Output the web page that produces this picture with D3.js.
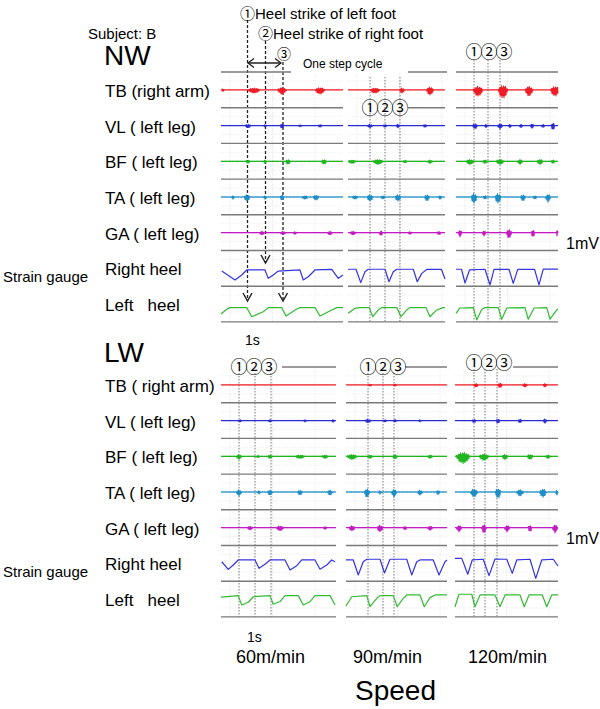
<!DOCTYPE html>
<html><head><meta charset="utf-8">
<script src="https://cdn.jsdelivr.net/npm/d3@7"></script>
<style>
body{margin:0;background:#fff}
svg{display:block}
text{font-family:"Liberation Sans",Arial,Helvetica,sans-serif;fill:#000;white-space:pre}
.cj{font-family:"Noto Sans CJK JP",sans-serif}
</style></head><body><svg id="c" width="600" height="709"></svg>
<script>
// ---------------- DATA ----------------
const speeds = ["60m/min", "90m/min", "120m/min"];
const conditions = ["NW", "LW"];
const rowLabelsNW = ["TB (right arm)", "VL ( left leg)", "BF ( left leg)", "TA ( left leg)", "GA ( left leg)", "Right heel", "Left   heel"];
const rowLabelsLW = ["TB ( right arm)", "VL ( left leg)", "BF ( left leg)", "TA ( left leg)", "GA ( left leg)", "Right heel", "Left   heel"];
const eventMarks = ["①", "②", "③"];
// recording length shown in each panel (s)
const durNW = [4.88, 3.88, 4.08];
const durLW = [4.60, 4.04, 4.12];
// times (s) of events ①②③ in each panel
const eventsNW = [[1.06, 1.78, 2.48], [0.88, 1.48, 2.08], [0.72, 1.28, 1.76]];
const eventsLW = [[0.72, 1.36, 2.00], [0.88, 1.48, 1.92], [0.76, 1.20, 1.68]];

// EMG bursts per panel: [time s, amplitude mV, duration s]
const NW_TB = [
 [[0.08,0.08,0.12],[1.32,0.17,0.48],[2.44,0.22,0.36],[3.96,0.22,0.40]],
 [[1.08,0.17,0.40],[2.16,0.17,0.20],[3.28,0.28,0.28]],
 [[0.88,0.34,0.40],[1.88,0.45,0.40],[2.92,0.34,0.32],[3.96,0.34,0.36]]];
const NW_VL = [
 [[1.08,0.11,0.24],[1.76,0.06,0.12],[2.44,0.14,0.16],[3.16,0.06,0.12],[3.96,0.08,0.16]],
 [[0.88,0.11,0.20],[1.48,0.08,0.16],[2.00,0.11,0.16],[3.08,0.08,0.16]],
 [[0.76,0.17,0.20],[1.20,0.11,0.12],[1.76,0.17,0.20],[2.16,0.11,0.12],[2.60,0.11,0.12],[3.04,0.14,0.16],[3.48,0.11,0.12],[3.88,0.22,0.16]]];
const NW_BF = [
 [[1.08,0.11,0.16],[1.76,0.11,0.12],[2.68,0.17,0.20],[4.12,0.17,0.20]],
 [[0.16,0.11,0.32],[1.20,0.17,0.40],[2.28,0.08,0.16],[3.28,0.11,0.20]],
 [[0.56,0.17,0.32],[1.16,0.11,0.20],[1.76,0.17,0.32],[2.56,0.17,0.20],[3.36,0.17,0.24],[3.88,0.11,0.16]]];
const NW_TA = [
 [[0.48,0.11,0.12],[1.04,0.22,0.24],[1.76,0.11,0.12],[2.44,0.17,0.16],[3.36,0.11,0.24],[3.80,0.17,0.24]],
 [[0.28,0.11,0.24],[0.88,0.22,0.24],[1.40,0.11,0.16],[2.00,0.22,0.24],[3.16,0.22,0.20],[3.68,0.11,0.16]],
 [[0.72,0.34,0.24],[1.16,0.11,0.16],[1.68,0.34,0.24],[2.68,0.22,0.20],[3.16,0.11,0.16],[3.68,0.28,0.20]]];
const NW_GA = [
 [[1.64,0.11,0.20],[2.48,0.11,0.20],[2.96,0.08,0.16],[4.36,0.11,0.20]],
 [[0.20,0.11,0.24],[1.32,0.17,0.12],[2.48,0.08,0.16],[3.64,0.11,0.16]],
 [[0.16,0.22,0.16],[1.12,0.17,0.16],[2.12,0.28,0.24],[3.08,0.22,0.16],[4.04,0.22,0.08]]];
const LW_TB = [
 [],
 [[0.96,0.05,0.16],[1.96,0.05,0.16]],
 [[0.84,0.11,0.20],[1.80,0.14,0.20],[2.80,0.11,0.20],[3.60,0.11,0.16]]];
const LW_VL = [
 [[0.76,0.08,0.12],[1.96,0.08,0.12],[3.36,0.06,0.12],[4.48,0.08,0.12]],
 [[0.88,0.11,0.24],[1.56,0.08,0.12],[1.96,0.08,0.12],[2.96,0.06,0.12]],
 [[0.76,0.11,0.16],[1.72,0.14,0.16],[2.60,0.11,0.16],[3.60,0.14,0.16]]];
const LW_BF = [
 [[0.72,0.17,0.20],[1.48,0.08,0.12],[1.96,0.11,0.20],[3.16,0.11,0.40],[4.16,0.11,0.24]],
 [[0.24,0.17,0.40],[0.96,0.11,0.20],[1.96,0.14,0.20],[3.36,0.11,0.20]],
 [[0.32,0.39,0.56],[1.16,0.22,0.40],[2.00,0.17,0.24],[3.00,0.17,0.24],[3.72,0.11,0.20]]];
const LW_TA = [
 [[0.72,0.22,0.20],[1.52,0.11,0.12],[1.96,0.17,0.20],[3.16,0.17,0.20],[4.36,0.17,0.20]],
 [[0.84,0.28,0.24],[1.36,0.11,0.12],[1.92,0.28,0.20],[2.96,0.17,0.20],[3.68,0.14,0.16]],
 [[0.76,0.28,0.28],[1.72,0.34,0.24],[2.60,0.22,0.28],[3.52,0.28,0.28],[4.08,0.17,0.12]]];
const LW_GA = [
 [[1.16,0.11,0.24],[2.36,0.17,0.28],[4.16,0.08,0.16]],
 [[0.24,0.17,0.24],[1.36,0.22,0.24],[2.36,0.11,0.16],[3.36,0.14,0.20]],
 [[0.16,0.22,0.20],[1.16,0.28,0.20],[2.08,0.22,0.20],[3.00,0.22,0.16],[4.00,0.28,0.20]]];

// strain gauge signals per panel: [time s, normalised value]
const NW_RH = [
 [[0.03,-0.15],[0.56,-0.65],[0.83,-0.37],[1.03,-0.09],[1.76,-0.09],[1.89,-0.56],[2.09,-0.37],[2.29,-0.15],[3.16,-0.09],[3.29,-0.65],[3.49,-0.47],[3.76,-0.09],[4.43,-0.06],[4.69,-0.56],[4.88,-0.37]],
 [[0,-0.05],[0.32,-0.05],[0.51,-0.80],[0.68,-0.19],[0.81,-0.05],[1.48,-0.05],[1.64,-0.75],[1.81,-0.19],[1.95,-0.05],[2.61,-0.05],[2.77,-0.75],[2.95,-0.28],[3.15,-0.06],[3.74,-0.06],[3.88,-0.60]],
 [[0,-0.05],[0.22,-0.05],[0.36,-0.82],[0.54,-0.09],[1.16,-0.05],[1.36,-0.93],[1.52,-0.06],[2.12,-0.05],[2.29,-0.84],[2.47,-0.06],[3.14,-0.05],[3.32,-0.93],[3.49,-0.04],[4.08,-0.04]]];
const NW_LH = [
 [[0,-0.56],[0.23,-0.29],[0.36,-0.20],[1.03,-0.20],[1.23,-0.71],[1.69,-0.43],[1.89,-0.20],[2.43,-0.20],[2.60,-0.67],[3.03,-0.28],[3.16,-0.20],[3.76,-0.20],[3.96,-0.67],[4.43,-0.33],[4.63,-0.20],[4.88,-0.20]],
 [[0.01,-0.52],[0.28,-0.24],[0.48,-0.20],[0.85,-0.20],[0.99,-0.71],[1.21,-0.33],[1.35,-0.20],[1.95,-0.20],[2.12,-0.71],[2.35,-0.33],[2.48,-0.20],[3.12,-0.20],[3.28,-0.71],[3.55,-0.33],[3.81,-0.20],[3.88,-0.20]],
 [[0,-0.52],[0.16,-0.22],[0.69,-0.20],[0.83,-0.89],[1.03,-0.29],[1.16,-0.20],[1.69,-0.20],[1.83,-0.85],[2.03,-0.22],[2.76,-0.20],[2.89,-0.85],[3.12,-0.22],[3.63,-0.20],[3.76,-0.85],[4.03,-0.33],[4.08,-0.28]]];
const LW_RH = [
 [[0.03,0.09],[0.29,-0.34],[0.49,-0.09],[0.69,0.19],[1.36,0.19],[1.52,-0.28],[1.76,-0.05],[1.96,0.19],[2.56,0.19],[2.76,-0.37],[3.03,-0.13],[3.23,0.19],[3.76,0.19],[3.96,-0.33],[4.23,-0.09],[4.43,0.19],[4.56,0.09]],
 [[0,0.19],[0.29,0.19],[0.49,-0.65],[0.69,0.09],[0.83,0.23],[1.36,0.23],[1.54,-0.54],[1.76,0.23],[2.43,0.23],[2.63,-0.65],[2.83,0.09],[2.96,0.19],[3.49,0.19],[3.72,-0.65],[3.96,0.09],[4.04,0.19]],
 [[0,0.28],[0.27,0.28],[0.51,-0.61],[0.69,0.19],[1.13,0.23],[1.36,-0.69],[1.60,0.24],[2.07,0.23],[2.29,-0.56],[2.47,0.19],[3.00,0.23],[3.23,-0.84],[3.47,0.19],[3.93,0.23],[4.12,-0.15]]];
const LW_LH = [
 [[0,0.11],[0.69,0.19],[0.83,-0.33],[1.09,-0.18],[1.29,0.13],[1.96,0.19],[2.09,-0.29],[2.36,-0.14],[2.56,0.19],[3.09,0.19],[3.29,-0.33],[3.56,-0.15],[3.76,0.19],[4.36,0.19],[4.56,-0.33]],
 [[0,-0.39],[0.23,0.13],[0.83,0.19],[0.96,-0.43],[1.23,0.04],[1.36,0.19],[1.89,0.19],[2.05,-0.43],[2.29,0.04],[2.43,0.23],[2.96,0.23],[3.13,-0.43],[3.36,0.08],[3.56,0.23],[4.04,0.23]],
 [[0,-0.43],[0.16,0.27],[0.67,0.27],[0.80,-0.43],[1.00,0.23],[1.60,0.23],[1.80,-0.43],[2.00,0.23],[2.60,0.23],[2.77,-0.43],[2.96,0.23],[3.49,0.23],[3.67,-0.43],[3.87,0.23],[4.12,0.23]]];

// ---------------- LAYOUT / STYLE ----------------
const svg = d3.select("#c");
const PX_PER_S = 25, ROW_H = 35.7, CIRC = 17;
const colors = ["#ee1c24", "#2b2bd2", "#22b522", "#1e8ec6", "#c21dc2", "#3535e0", "#33bb33"];
const sections = [
  {name: conditions[0], top: 72, left: [221, 348, 456], dur: durNW, emg: [NW_TB, NW_VL, NW_BF, NW_TA, NW_GA],
   rh: NW_RH, lh: NW_LH, ev: eventsNW, labels: rowLabelsNW,
   topSeg: [[221, 291], [408, 447], [456, 558]], evTop: [16, 77, 60]},
  {name: conditions[1], top: 367, left: [221, 346, 455], dur: durLW, emg: [LW_TB, LW_VL, LW_BF, LW_TA, LW_GA],
   rh: LW_RH, lh: LW_LH, ev: eventsLW, labels: rowLabelsLW,
   topSeg: [[282, 336], [405, 447], [513, 558]], evTop: [373, 373, 369]}
];
const texture = [1, .35, .8, .55, .95, .25, .7, .45];
function emgSeries(bursts, dur) {
  const pts = [], dt = 0.02;
  for (let i = 0; i * dt <= dur + 1e-9; i++) {
    const t = i * dt; let env = 0.014;
    for (const [tc, a, d] of bursts) { const u = (t - tc) / (d / 2); if (Math.abs(u) < 1) env += a * (1 - u * u); }
    pts.push([t, env * texture[i % 8] * (i % 2 ? 1 : -1)]);
  }
  return pts;
}
const gGrid = svg.append("g"), gEv = svg.append("g"), gSep = svg.append("g"), gSig = svg.append("g"), gTxt = svg.append("g");

sections.forEach((s, si) => {
  s.dur.forEach((dur, p) => {
    const x = d3.scaleLinear().domain([0, dur]).range([s.left[p], s.left[p] + dur * PX_PER_S]);
    const [x0, x1] = x.range();
    for (let r = 0; r < 7; r++) {
      const y = d3.scaleLinear().domain([-1, 1]).range([s.top + (r + 1) * ROW_H, s.top + r * ROW_H]);
      [0.5, -0.5].forEach(v => gGrid.append("line").attr("x1", x0).attr("x2", x1).attr("y1", y(v)).attr("y2", y(v))
        .attr("stroke", "#e8e8e8").attr("stroke-width", 0.7).attr("stroke-dasharray", "1,1"));
    }
    d3.range(0.36, dur, 1.7).forEach(t => gGrid.append("line").attr("x1", x(t)).attr("x2", x(t))
      .attr("y1", s.top + 2).attr("y2", s.top + 7 * ROW_H).attr("stroke", "#e3e3e3").attr("stroke-width", 0.8).attr("stroke-dasharray", "1,1"));
    for (let k = 0; k < 8; k++) {
      let a = x0, b = x1;
      if (k === 0) [a, b] = s.topSeg[p];
      if (si === 0 && p === 1 && k === 1) a = 408;
      gSep.append("line").attr("x1", a).attr("x2", b).attr("y1", s.top + k * ROW_H).attr("y2", s.top + k * ROW_H)
        .attr("stroke", "#7a7a7a").attr("stroke-width", 1.4);
    }
    const yBot = s.top + 7 * ROW_H;
    if (si === 0 && p === 0) {
      const tips = [301, 263, 301], tops = [20, 41, 62];
      s.ev[p].forEach((t, i) => {
        const xx = x(t);
        gEv.append("line").attr("x1", xx).attr("x2", xx).attr("y1", tops[i]).attr("y2", tips[i])
          .attr("stroke", "#222").attr("stroke-width", 1.3).attr("stroke-dasharray", "3,2");
        gTxt.append("path").attr("d", `M${xx - 4.5},${tips[i] - 8}L${xx},${tips[i]}L${xx + 4.5},${tips[i] - 8}`)
          .attr("fill", "none").attr("stroke", "#222").attr("stroke-width", 1.4);
      });
    } else {
      s.ev[p].forEach(t => gEv.append("line").attr("x1", x(t)).attr("x2", x(t)).attr("y1", s.evTop[p]).attr("y2", yBot)
        .attr("stroke", "#555").attr("stroke-width", 0.8).attr("stroke-dasharray", "1.5,1.5"));
      const ly = (si === 0 ? (p === 1 ? 114 : 58) : (p === 2 ? 369 : 373));
      gTxt.append("text").attr("class", "cj").attr("x", x(s.ev[p][0]) - CIRC / 2).attr("y", ly)
        .attr("font-size", CIRC).attr("letter-spacing", -2).text(eventMarks.join(""));
    }
    for (let r = 0; r < 7; r++) {
      const y = d3.scaleLinear().domain([-1, 1]).range([s.top + (r + 1) * ROW_H, s.top + r * ROW_H]);
      const line = d3.line().x(d => x(d[0])).y(d => y(d[1]));
      const pts = r < 5 ? emgSeries(s.emg[r][p], dur) : (r === 5 ? s.rh[p] : s.lh[p]);
      gSig.append("path").attr("d", line(pts)).attr("fill", "none").attr("stroke", colors[r])
        .attr("stroke-width", r < 5 ? 1.1 : 1.2).attr("stroke-linejoin", "round");
    }
  });
  s.labels.forEach((lab, r) => gTxt.append("text").attr("x", 105).attr("y", s.top + (r + 0.5) * ROW_H + 7)
    .attr("font-size", 17).text(lab));
  gTxt.append("text").attr("x", 3).attr("y", s.top + 5.75 * ROW_H + 5).attr("font-size", 15).text("Strain gauge");
  gTxt.append("text").attr("x", 566).attr("y", s.top + 4.75 * ROW_H + 7).attr("font-size", 16).text("1mV");
});

const xN1 = d3.scaleLinear().domain([0, durNW[0]]).range([221, 221 + durNW[0] * PX_PER_S]);
function circled(xc, yb, mark, rest, size) {
  const t = gTxt.append("text").attr("x", xc - size / 2).attr("y", yb).attr("font-size", 15);
  t.append("tspan").attr("class", "cj").attr("font-size", size).text(mark);
  if (rest) t.append("tspan").text(rest);
}
circled(xN1(eventsNW[0][0]), 19, eventMarks[0], "Heel strike of left foot", 15);
circled(xN1(eventsNW[0][1]), 39, eventMarks[1], "Heel strike of right foot", 15);
circled(xN1(eventsNW[0][2]) + 1, 59, eventMarks[2], "", 14);
{
  const a = xN1(eventsNW[0][0]) + 0.5, b = xN1(eventsNW[0][2]) - 2, yy = 63;
  gTxt.append("line").attr("x1", a).attr("x2", b).attr("y1", yy).attr("y2", yy).attr("stroke", "#222").attr("stroke-width", 1.3);
  gTxt.append("path").attr("d", `M${a + 6},${yy - 4.5}L${a},${yy}L${a + 6},${yy + 4.5}M${b - 6},${yy - 4.5}L${b},${yy}L${b - 6},${yy + 4.5}`)
    .attr("fill", "none").attr("stroke", "#222").attr("stroke-width", 1.3);
}
gTxt.append("text").attr("x", 303).attr("y", 68).attr("font-size", 12).text("One step cycle");
gTxt.append("text").attr("x", 88).attr("y", 39).attr("font-size", 15).text("Subject: B");
gTxt.append("text").attr("x", 104).attr("y", 65).attr("font-size", 28).text(conditions[0]);
gTxt.append("text").attr("x", 104).attr("y", 362).attr("font-size", 28).text(conditions[1]);
gTxt.append("text").attr("x", 245).attr("y", 345).attr("font-size", 14).text("1s");
gTxt.append("text").attr("x", 247).attr("y", 642).attr("font-size", 14).text("1s");
const speedX = [236, 353, 468];
speeds.forEach((sp, i) => gTxt.append("text").attr("x", speedX[i]).attr("y", 663).attr("font-size", 18).text(sp));
gTxt.append("text").attr("x", 355).attr("y", 700).attr("font-size", 28).text("Speed");
</script></body></html>
